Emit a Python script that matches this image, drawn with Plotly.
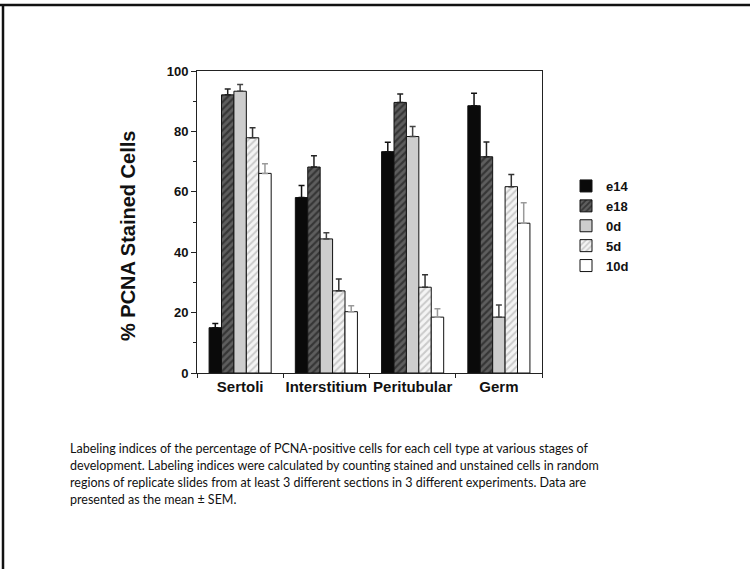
import plotly.graph_objects as go

categories = ["Sertoli", "Interstitium", "Peritubular", "Germ"]
series_names = ["e14", "e18", "0d", "5d", "10d"]
means = {
    "e14": [15.0, 58.1, 73.3, 88.5],
    "e18": [92.1, 68.2, 89.6, 71.6],
    "0d": [93.3, 44.4, 78.3, 18.5],
    "5d": [77.9, 27.2, 28.4, 61.7],
    "10d": [66.1, 20.3, 18.5, 49.6],
}
sems = {
    "e14": [1.4, 4.0, 3.1, 4.1],
    "e18": [1.9, 3.7, 2.8, 4.9],
    "0d": [2.2, 2.0, 3.3, 4.0],
    "5d": [3.3, 3.9, 4.1, 4.0],
    "10d": [3.2, 2.0, 2.8, 6.8],
}
y_tick_vals = [0, 20, 40, 60, 80, 100]
y_axis_title = "% PCNA Stained Cells"
caption_lines = [
    "Labeling indices of the percentage of PCNA-positive cells for each cell type at various stages of",
    "development. Labeling indices were calculated by counting stained and unstained cells in random",
    "regions of replicate slides from at least 3 different sections in 3 different experiments. Data are",
    "presented as the mean \u00b1 SEM.",
]

styles = {
    "e14": dict(color="#0a0a0a", pattern=dict(shape="")),
    "e18": dict(color="#555555", pattern=dict(shape="/", fgcolor="#0e0e0e", bgcolor="#5e5e5e", size=5, solidity=0.45)),
    "0d": dict(color="#cdcdcd", pattern=dict(shape="")),
    "5d": dict(color="#ffffff", pattern=dict(shape="/", fgcolor="#a0a0a0", bgcolor="#f4f4f4", size=5, solidity=0.4)),
    "10d": dict(color="#ffffff", pattern=dict(shape="")),
}
err_colors = {"e14": "#111", "e18": "#222", "0d": "#444", "5d": "#333", "10d": "#9a9a9a"}

FONT = "Liberation Sans, Arial, Helvetica, sans-serif"

fig = go.Figure()
for name in series_names:
    st = styles[name]
    fig.add_trace(go.Bar(
        name=name,
        x=categories,
        y=means[name],
        marker=dict(color=st["color"], pattern=st["pattern"], line=dict(color="#111", width=1)),
        error_y=dict(type="data", symmetric=False, array=sems[name], arrayminus=[0] * len(categories),
                     color=err_colors[name], thickness=1.5, width=3),
    ))

W, H = 750, 569
L, R, T, B = 197, 542, 71, 373


def px(x):
    return (x - L) / (R - L)


def py(y):
    return (B - y) / (B - T)


fig.update_layout(
    width=W, height=H,
    margin=dict(l=L, r=W - R, t=T, b=H - B),
    paper_bgcolor="white", plot_bgcolor="white",
    barmode="group", bargap=0.28, bargroupgap=0,
    font=dict(family=FONT, color="#111"),
    showlegend=True,
    legend=dict(x=px(566), y=py(171), xanchor="left", yanchor="top",
                font=dict(family=FONT, size=13, color="#111", weight="bold"),
                tracegroupgap=0, bgcolor="rgba(0,0,0,0)"),
    xaxis=dict(
        range=[-0.5, 3.5], showline=True, linecolor="#222", linewidth=1, mirror=True,
        ticks="outside", tickson="boundaries", ticklen=4, tickcolor="#222", tickangle=0,
        tickfont=dict(family=FONT, size=15, color="#111", weight="bold"),
        showgrid=False, zeroline=False,
    ),
    yaxis=dict(
        range=[0, 100], tickvals=y_tick_vals, showline=True, linecolor="#222", linewidth=1, mirror=True,
        ticks="outside", ticklen=5, tickcolor="#222",
        tickfont=dict(family=FONT, size=13, color="#111", weight="bold"),
        minor=dict(dtick=10, ticks="outside", ticklen=3, tickcolor="#222"),
        showgrid=False, zeroline=False,
    ),
)

fig.add_annotation(
    text=y_axis_title, textangle=-90, x=px(128), y=py(236), xref="paper", yref="paper",
    showarrow=False, font=dict(family=FONT, size=20, color="#111", weight="bold"),
    xanchor="center", yanchor="middle",
)

caption_top = 448
caption_step = 17
for i, line in enumerate(caption_lines):
    fig.add_annotation(
        text=line, x=px(68), y=py(caption_top + i * caption_step), xref="paper", yref="paper",
        showarrow=False, align="left", xanchor="left", yanchor="middle",
        font=dict(family="Lato, Carlito, Calibri, sans-serif", size=12.5, color="#111"),
    )

# slide frame (top and left edges)
fig.add_shape(type="line", xref="paper", yref="paper", x0=px(0), x1=px(W), y0=py(5), y1=py(5),
              line=dict(color="#111", width=2.5))
fig.add_shape(type="line", xref="paper", yref="paper", x0=px(3), x1=px(3), y0=py(4), y1=py(H),
              line=dict(color="#111", width=2.5))

fig.write_html("out.html")
